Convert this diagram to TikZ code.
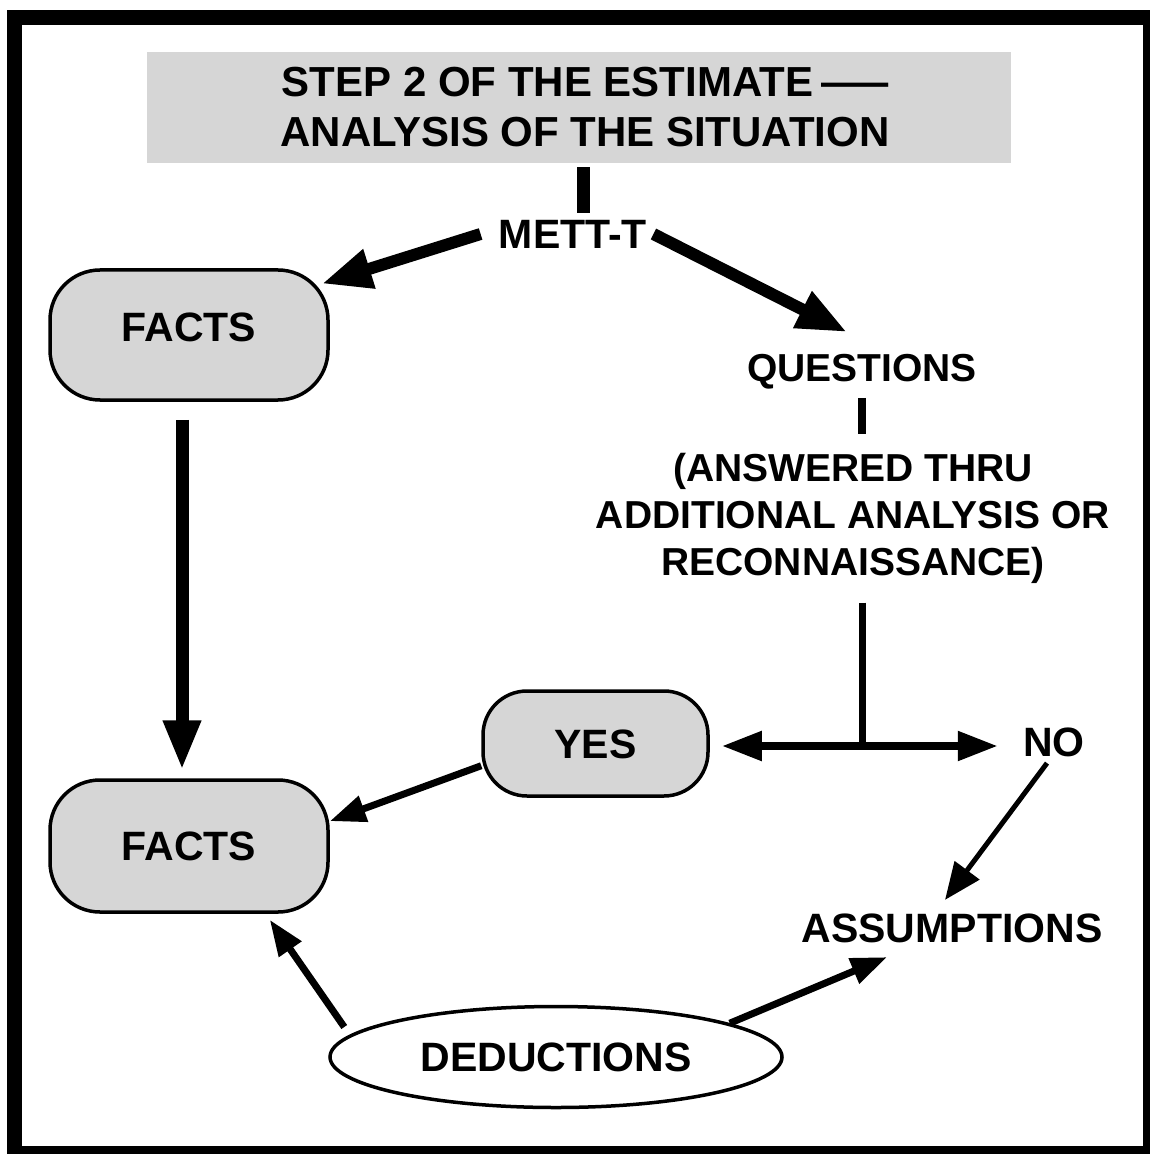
\documentclass[tikz,border=0pt]{standalone}
\usepackage{fontspec}
\setmainfont{Liberation Sans}
\usepackage{graphicx}
\usetikzlibrary{calc,positioning}
\usetikzlibrary{shapes.geometric,arrows.meta}
\definecolor{boxgray}{gray}{0.84}

\begin{document}
\begin{tikzpicture}[x=0.5pt,y=-0.5pt,
  txt/.style={font=\bfseries\fontsize{20.5}{24}\selectfont,inner sep=3pt,text height=14.7pt,text depth=0pt},
  rbox/.style={txt,draw,line width=1.75pt,fill=boxgray,rounded corners=25pt,minimum width=139pt,minimum height=65pt},
  bigarrow/.style={line width=6pt,-{Triangle[length=25pt,width=19pt]}},
  midarrow/.style={line width=3.5pt,-{Triangle[length=18pt,width=13pt]}},
  dblarrow/.style={line width=4pt,-{Triangle[length=20pt,width=14pt]}}]
\useasboundingbox (0,0) rectangle (1149,1154);
\draw[line width=7.5pt] (14.5,17.5) rectangle (1150.5,1153.5);
\node[fill=boxgray,minimum width=432pt,minimum height=55.5pt,inner sep=0pt,align=center,
  font=\bfseries\fontsize{21}{25}\selectfont] (title) at (579,107.5)
  {\hspace*{6pt}STEP 2 OF THE ESTIMATE\hspace{4pt}\scalebox{1.6}[1]{—}\\\hspace*{6pt}ANALYSIS OF THE SITUATION};
\node[txt] (mett) at (573,234) {METT-T};
\node[rbox,text depth=8pt] (facts1) at (189,335) {FACTS};
\node[txt,font=\bfseries\fontsize{19.5}{24}\selectfont,text height=14pt] (questions) at (862,367.5) {QUESTIONS};
\node[align=center,inner sep=3pt,font=\bfseries\fontsize{19.5}{23.5}\selectfont] (answered) at (853,518)
  {(ANSWERED THRU\\ADDITIONAL ANALYSIS OR\\RECONNAISSANCE)};
\coordinate (split) at (862,746);
\node[rbox,rounded corners=22pt,minimum width=112.5pt,minimum height=52.5pt] (yes) at (595.5,743.5) {YES};
\node[txt] (no) at (1054,742) {NO};
\node[rbox,minimum height=66pt] (facts2) at (189,846) {FACTS};
\node[txt] (assump) at (952,928) {ASSUMPTIONS};
\node[txt,draw,ellipse,line width=1.75pt,minimum width=226pt,minimum height=50.5pt,inner sep=0pt] (deduct) at (556,1057) {DEDUCTIONS};
\draw[line width=6.5pt,shorten <=2pt] ([xshift=2pt]title.south) -- ([xshift=2pt]title.south |- mett.north);
\draw[bigarrow] ([xshift=-6pt]mett.west) -- ([xshift=-4pt]facts1.20);
\draw[bigarrow] (mett.east) -- ([xshift=-7.5pt,yshift=7.5pt]questions.north);
\draw[line width=4pt,shorten <=5pt,shorten >=6pt] (questions.south) -- (questions.south |- answered.north);
\draw[line width=3.5pt,shorten <=6.5pt] (questions.south |- answered.south) -- (split);
\draw[dblarrow] (split) -- ([xshift=6pt]yes.east |- split);
\draw[dblarrow] (split) -- ([xshift=-9.5pt]no.west |- split);
\draw[bigarrow,line width=6.5pt,-{Triangle[length=25pt,width=17.5pt]},shorten <=9pt,shorten >=4pt] ([xshift=-3.5pt]facts1.south) -- ([xshift=-3.5pt]facts2.north);
\draw[midarrow] (yes.191) -- (facts2.10);
\draw[midarrow,line width=2.5pt,-{Triangle[length=18.5pt,width=15pt]}] ([xshift=-3.5pt]no.south) -- ([xshift=-3.5pt,yshift=3.5pt]assump.north);
\draw[midarrow] ([shift={(8pt,15pt)}]deduct.west) -- ([yshift=-3pt]facts2.-40);
\draw[midarrow] (deduct.11) -- ([xshift=-32.5pt,yshift=-4pt]assump.south);
\end{tikzpicture}
\end{document}
